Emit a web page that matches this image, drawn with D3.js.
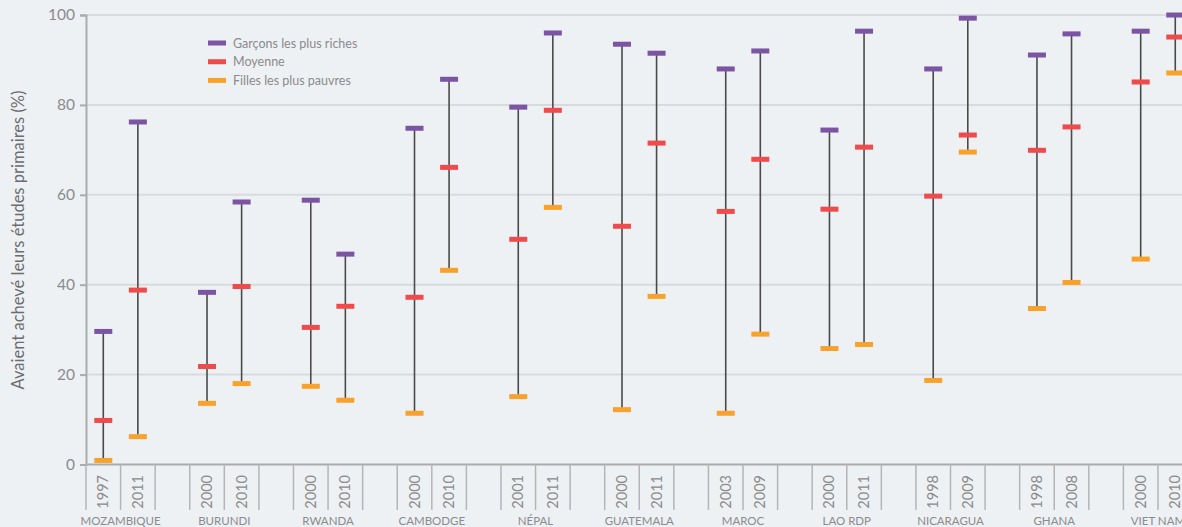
<!DOCTYPE html>
<html>
<head>
<meta charset="utf-8">
<script src="https://cdnjs.cloudflare.com/ajax/libs/d3/7.8.5/d3.min.js"></script>
<style>
	body { margin: 0; background: #eef1f3; }
	svg { display: block; font-family: Lato, "Open Sans", sans-serif; }
</style>
</head>
<body>
<div id="chart"></div>
<script>

var countries = ['MOZAMBIQUE', 'BURUNDI', 'RWANDA', 'CAMBODGE', 'NÉPAL', 'GUATEMALA', 'MAROC', 'LAO RDP', 'NICARAGUA', 'GHANA', 'VIET NAM'];
var years = [['1997', '2011'], ['2000', '2010'], ['2000', '2010'], ['2000', '2010'], ['2001', '2011'], ['2000', '2011'],
	['2003', '2009'], ['2000', '2011'], ['1998', '2009'], ['1998', '2008'], ['2000', '2010']];

// one value per survey year, in the same order as years
var richBoys = [29.6, 76.2, 38.3, 58.4, 58.8, 46.8, 74.8, 85.7, 79.5, 96.0, 93.5, 91.5, 88.0, 92.0, 74.4, 96.4, 88.0, 99.3, 91.1, 95.8, 96.4, 100];
var average  = [9.8, 38.8, 21.8, 39.6, 30.5, 35.2, 37.2, 66.1, 50.1, 78.8, 53.0, 71.5, 56.3, 67.9, 56.8, 70.6, 59.7, 73.3, 69.9, 75.1, 85.1, 95.1];
var poorGirls = [0.9, 6.2, 13.6, 18.0, 17.4, 14.3, 11.4, 43.2, 15.1, 57.2, 12.2, 37.4, 11.4, 29.0, 25.8, 26.7, 18.7, 69.5, 34.7, 40.5, 45.7, 87.1];

var yTicks = [0, 20, 40, 60, 80, 100];
var series = [
	{ name: 'Garçons les plus riches', values: richBoys, color: '#7b54a3' },
	{ name: 'Moyenne', values: average, color: '#f04b4c' },
	{ name: 'Filles les plus pauvres', values: poorGirls, color: '#f9a22b' }
];

var width = 1182, height = 527;
var mLeft = 86, mTop = 15, mBottom = 464.5;
var slotW = 34.58;

var svg = d3.select('#chart').append('svg')
	.attr('width', width)
	.attr('height', height);

// slots: year1, year2, gap for each country
var slots = [];
countries.forEach(function(c, i) {
	slots.push(i + '-0', i + '-1', i + '-gap');
});

var x = d3.scaleBand()
	.domain(slots)
	.range([mLeft, mLeft + slots.length * slotW])
	.padding(0);

var y = d3.scaleLinear()
	.domain([0, 100])
	.range([mBottom, mTop]);

// grid
svg.append('g').selectAll('line')
	.data(yTicks.filter(function(d) { return d > 0; }))
	.enter().append('line')
	.attr('x1', mLeft).attr('x2', width)
	.attr('y1', function(d) { return y(d); })
	.attr('y2', function(d) { return y(d); })
	.attr('stroke', '#d8dbde')
	.attr('stroke-width', 2);

// y axis
var yAxis = svg.append('g')
	.attr('transform', 'translate(' + mLeft + ',0)')
	.call(d3.axisLeft(y).tickValues(yTicks).tickSize(6).tickPadding(5));
yAxis.select('.domain').attr('stroke', '#a9abad').attr('stroke-width', 2);
yAxis.selectAll('.tick line').attr('stroke', '#a9abad').attr('stroke-width', 2);
yAxis.selectAll('.tick text')
	.attr('fill', '#8a8b8d')
	.style('font-size', '15.5px')
	.style('font-family', 'Lato, sans-serif');

svg.append('text')
	.attr('transform', 'translate(24,' + 240 + ') rotate(-90)')
	.attr('text-anchor', 'middle')
	.attr('fill', '#6b6c6e')
	.style('font-size', '16.5px')
	.text('Avaient achevé leurs études primaires (%)');

// x axis: baseline and slot separators
svg.append('line')
	.attr('x1', mLeft).attr('x2', width)
	.attr('y1', mBottom).attr('y2', mBottom)
	.attr('stroke', '#a9abad')
	.attr('stroke-width', 2);

var bounds = slots.map(function(s) { return x(s); });
bounds.push(x.range()[1]);
svg.append('g').selectAll('line')
	.data(bounds)
	.enter().append('line')
	.attr('x1', function(d) { return d; })
	.attr('x2', function(d) { return d; })
	.attr('y1', mBottom)
	.attr('y2', 510)
	.attr('stroke', '#b3b5b7')
	.attr('stroke-width', 1.5);

// flat list of survey points
var points = [];
countries.forEach(function(c, i) {
	years[i].forEach(function(yr, j) {
		var k = i * 2 + j;
		points.push({ slot: i + '-' + j, year: yr, hi: richBoys[k], mid: average[k], lo: poorGirls[k] });
	});
});

svg.append('g').selectAll('text')
	.data(points)
	.enter().append('text')
	.attr('transform', function(d) {
		return 'translate(' + (x(d.slot) + x.bandwidth() / 2 + 5) + ',475) rotate(-90)';
	})
	.attr('text-anchor', 'end')
	.attr('fill', '#8a8b8d')
	.style('font-size', '14.5px')
	.text(function(d) { return d.year; });

svg.append('g').selectAll('text')
	.data(countries)
	.enter().append('text')
	.attr('x', function(d, i) { return x(i + '-1'); })
	.attr('y', 525)
	.attr('text-anchor', 'middle')
	.attr('fill', '#8a8b8d')
	.style('font-size', '11.5px')
	.text(function(d) { return d; });

// range lines
svg.append('g').selectAll('line')
	.data(points)
	.enter().append('line')
	.attr('x1', function(d) { return x(d.slot) + x.bandwidth() / 2; })
	.attr('x2', function(d) { return x(d.slot) + x.bandwidth() / 2; })
	.attr('y1', function(d) { return y(d.hi); })
	.attr('y2', function(d) { return y(d.lo); })
	.attr('stroke', '#4a4a4a')
	.attr('stroke-width', 1.6);

// markers
var mw = 18, mh = 5;
series.forEach(function(s) {
	svg.append('g').selectAll('rect')
		.data(points)
		.enter().append('rect')
		.attr('x', function(d) { return x(d.slot) + x.bandwidth() / 2 - mw / 2; })
		.attr('y', function(d, i) { return y(s.values[i]) - mh / 2; })
		.attr('width', mw)
		.attr('height', mh)
		.attr('fill', s.color);
});

// legend
var legend = svg.append('g').attr('transform', 'translate(208,43)');
series.forEach(function(s, i) {
	legend.append('rect')
		.attr('x', 0).attr('y', i * 18.7 - 2.5)
		.attr('width', 18).attr('height', 5)
		.attr('fill', s.color);
	legend.append('text')
		.attr('x', 25).attr('y', i * 18.7 + 4.5)
		.attr('fill', '#8a8b8d')
		.style('font-size', '12.5px')
		.text(s.name);
});

</script>
</body>
</html>
